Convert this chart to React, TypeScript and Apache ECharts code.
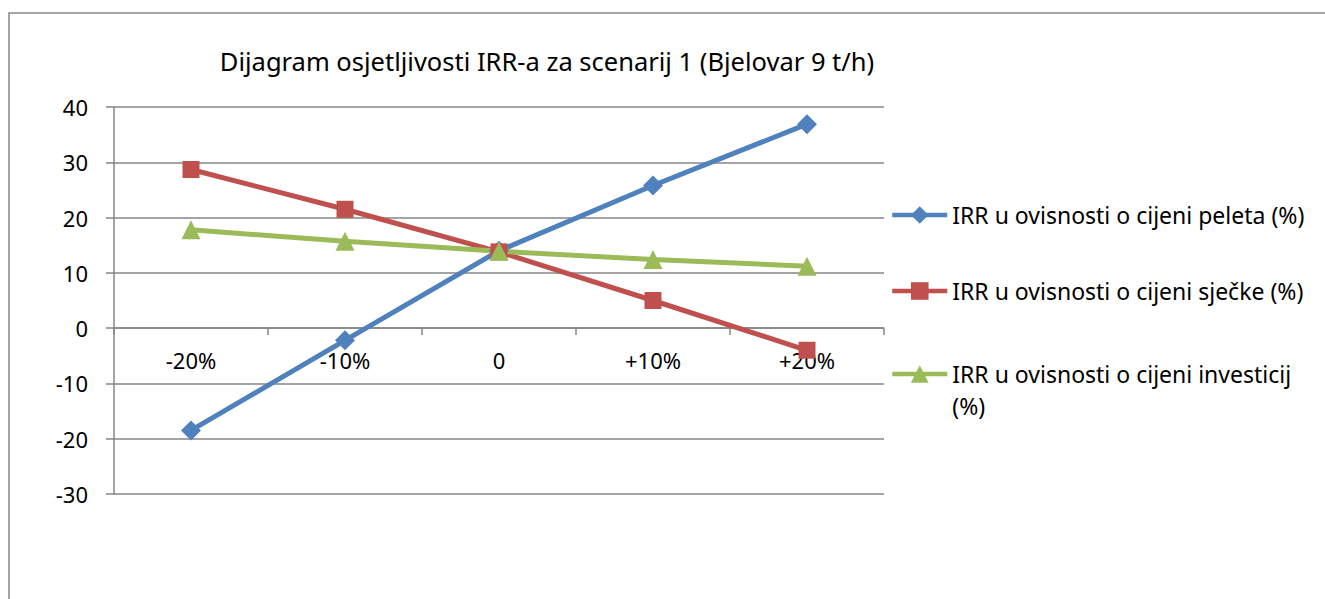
import React, { useEffect, useRef } from 'react';
import * as echarts from 'echarts';

const titleText = 'Dijagram osjetljivosti IRR-a za scenarij 1 (Bjelovar 9 t/h)';
const categories = ['-20%', '-10%', '0', '+10%', '+20%'];
const seriesNames = [
  'IRR u ovisnosti o cijeni peleta (%)',
  'IRR u ovisnosti o cijeni sječke (%)',
  'IRR u ovisnosti o cijeni investicij (%)',
];
const peleta = [-18.5, -2.2, 14.0, 25.8, 36.9];
const sjecke = [28.7, 21.5, 13.8, 5.0, -4.0];
const investicij = [17.8, 15.7, 13.9, 12.4, 11.2];
const yMin = -30;
const yMax = 40;
const yInterval = 10;

const colors = ['#4F81BD', '#C0504D', '#9BBB59'];
const symbols = ['diamond', 'rect', 'triangle'];
const symbolSizes = [20, 17, 19];
const FONT = '"Noto Sans", sans-serif';

export default function App() {
  const ref = useRef<HTMLDivElement>(null);
  useEffect(() => {
    if (!ref.current) return;
    const chart = echarts.init(ref.current, undefined, { renderer: 'svg' });
    const data = [peleta, sjecke, investicij];
    const legendTops = [199, 275, 326];
    chart.setOption({
      animation: false,
      backgroundColor: '#ffffff',
      textStyle: { fontFamily: FONT },
      graphic: [
        {
          type: 'rect',
          shape: { x: 9, y: 13, width: 1400, height: 700 },
          style: { fill: 'none', stroke: '#868686', lineWidth: 1.5 },
          silent: true,
        },
      ],
      title: {
        text: titleText,
        left: 542,
        textAlign: 'center',
        top: 43,
        textStyle: { fontFamily: FONT, fontSize: 25.5, fontWeight: 'normal', color: '#000' },
      },
      legend: seriesNames.map((n, i) => ({
        data: [n],
        orient: 'vertical',
        left: 890,
        top: legendTops[i],
        padding: 0,
        itemWidth: 55,
        itemHeight: 22,
        itemGap: 0,
        lineStyle: { width: 4.5 },
        formatter: (name: string) =>
          name === seriesNames[2] ? '\nIRR u ovisnosti o cijeni investicij\n(%)' : name,
        textStyle: { fontFamily: FONT, fontSize: 23, color: '#000', lineHeight: 32 },
      })),
      grid: { left: 114, right: 441, top: 107, bottom: 105, containLabel: false },
      xAxis: {
        type: 'category',
        data: categories,
        boundaryGap: true,
        position: 'bottom',
        offset: -166,
        axisLine: { onZero: false, lineStyle: { color: '#868686', width: 1.5 } },
        axisTick: { show: true, inside: false, length: 7, lineStyle: { color: '#868686', width: 1.5 } },
        axisLabel: { fontFamily: FONT, fontSize: 22, color: '#000', margin: 21 },
        splitLine: { show: false },
      },
      yAxis: {
        type: 'value',
        min: yMin,
        max: yMax,
        interval: yInterval,
        axisLine: { show: true, lineStyle: { color: '#868686', width: 1.5 } },
        axisTick: { show: true, inside: false, length: 8, lineStyle: { color: '#868686', width: 1.5 } },
        axisLabel: { fontFamily: FONT, fontSize: 22, color: '#000', margin: 26 },
        splitLine: { show: true, lineStyle: { color: '#868686', width: 1.5 } },
      },
      series: seriesNames.map((n, i) => ({
        name: n,
        type: 'line',
        data: data[i],
        symbol: symbols[i],
        symbolSize: symbolSizes[i],
        showAllSymbol: true,
        lineStyle: { color: colors[i], width: 5 },
        itemStyle: { color: colors[i] },
        emphasis: { disabled: true },
      })),
    });
    return () => chart.dispose();
  }, []);
  return (
    <div
      ref={ref}
      style={{ position: 'absolute', left: 0, top: 0, width: 1325, height: 599 }}
    />
  );
}
